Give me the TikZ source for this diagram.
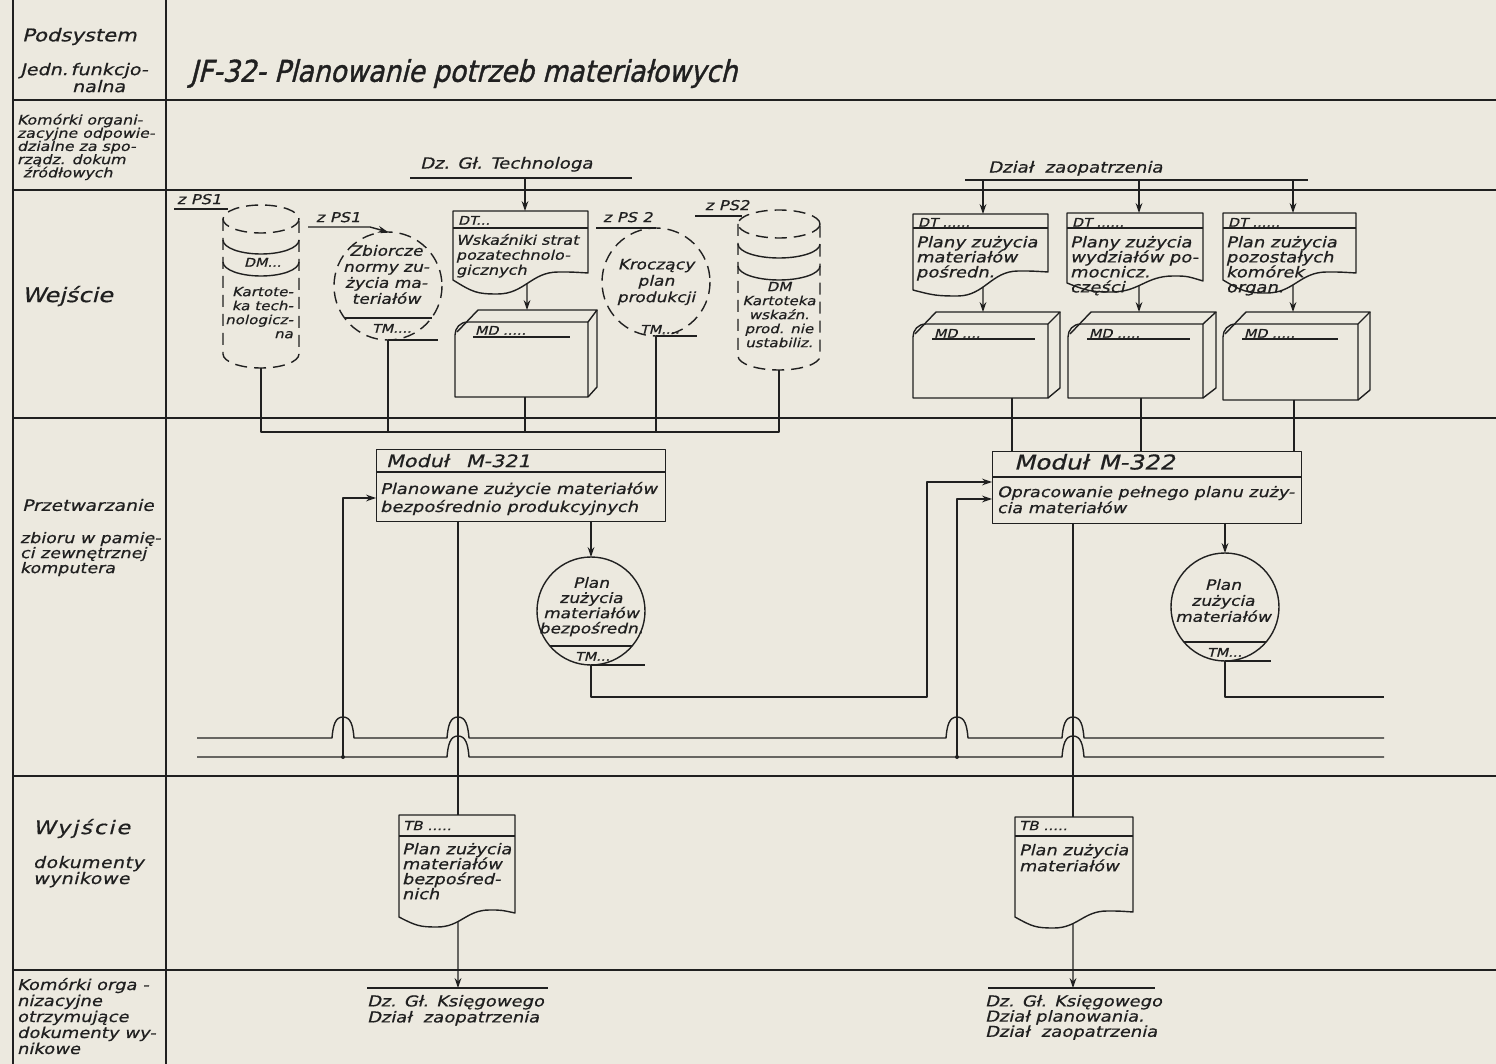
\documentclass[tikz,border=0pt]{standalone}
\usepackage{fontspec}
\newfontfamily\hand{DejaVu Sans}[FakeSlant=0.25,FakeStretch=1.2,FakeBold=0.6]
\newfontfamily\handn{DejaVu Sans}[FakeSlant=0.25,FakeStretch=0.88,FakeBold=1.2]
\usetikzlibrary{arrows.meta,intersections}
\definecolor{paper}{RGB}{236,233,223}
\definecolor{ink}{RGB}{32,32,32}
\newcommand\fs[2]{\hand\fontsize{#1}{#2}\selectfont\lineskiplimit=-30pt\lineskip=0pt}
\newcommand\fsn[2]{\handn\fontsize{#1}{#2}\selectfont}
% document symbol: name, x0, x1, top, sep, yl, ytrough, ycrest, yr
\newcommand\docshape[9]{%
  \pgfmathsetmacro\dw{#3-#2}%
  \pgfmathsetmacro\dxt{#2+0.33*\dw}%
  \pgfmathsetmacro\dxc{#2+0.78*\dw}%
  \draw[ln,name path=#1] (#3,#4) -- (#2,#4) -- (#2,#6)
    .. controls ({#2+0.15*\dw},{#6+0.9*(#7-#6)}) and ({\dxt-0.15*\dw},#7) .. (\dxt,#7)
    .. controls ({\dxt+0.2*\dw},#7) and ({\dxc-0.2*\dw},#8) .. (\dxc,#8)
    .. controls ({\dxc+0.1*\dw},#8) .. (#3,#9) -- cycle;
  \draw[ln] (#2,#5) -- (#3,#5);
}
% disk-pack box: x0, x1, front top, bottom, back dx
\newcommand\mdshape[5]{%
  \draw[ln] (#1,#3+13) -- (#1,#4) -- (#2,#4) -- (#2,#3) -- (#1+13,#3) .. controls (#1+5,#3) and (#1,#3+6) .. (#1,#3+13);
  \draw[ln] (#1+2,#3+10) -- (#1+23,#3-12) -- (#2+#5,#3-12) -- (#2,#3);
  \draw[ln] (#2+#5,#3-12) -- (#2+#5,#4-10) -- (#2,#4);
}
% dashed drum: cx, rx, top, bottom, arc1, arc2
\newcommand\drumshape[6]{%
  \draw[dsh] (#1,#3+14) ellipse[x radius=#2,y radius=14];
  \draw[dsh] (#1-#2,#3+14) -- (#1-#2,#4-14) arc[start angle=180,end angle=0,x radius=#2,y radius=14] -- (#1+#2,#3+14);
  \draw[ln] (#1-#2,#5) arc[start angle=180,end angle=0,x radius=#2,y radius=14];
  \draw[ln] (#1-#2,#6) arc[start angle=180,end angle=0,x radius=#2,y radius=14];
}
\begin{document}
\begin{tikzpicture}[x=0.5pt,y=-0.5pt,line join=round,
  lane/.style={draw=ink,line width=1.1pt},
  ln/.style={draw=ink,line width=0.7pt},
  dsh/.style={draw=ink,line width=0.7pt,dash pattern=on 6pt off 3.5pt},
  arr/.style={ln,-{Stealth[length=5pt,width=3.4pt]}},
  tl/.style={text=ink,inner sep=0pt,outer sep=0pt,anchor=north west,align=left},
  tc/.style={text=ink,inner sep=0pt,outer sep=0pt,anchor=north,align=center},
  tr/.style={text=ink,inner sep=0pt,outer sep=0pt,anchor=north east,align=right}]

\fill[paper] (0,0) rectangle (1496,1064);
\useasboundingbox (0,0) rectangle (1496,1064);

% ---------- frame ----------
\draw[lane] (13,0) -- (13,1064);
\draw[lane] (166,0) -- (166,1064);
\foreach \yy in {100,190,418,776,970} \draw[lane] (13,\yy) -- (1496,\yy);

% ---------- left column ----------
\node[tl,font=\fs{8.8}{10}] (lPod) at (22,28) {Podsystem};
\node[tl,font=\fs{8}{8.5}] (lJedn) at (20,63) {Jedn.\,funkcjo-\\\hspace*{26pt}nalna};
\node[tl,font=\fs{6.6}{6.6}] (lKom1) at (17,114) {Komórki organi-\\zacyjne odpowie-\\dzialne za spo-\\rządz. dokum\\\hspace*{3pt}źródłowych};
\node[tl,font=\fs{10}{12}] (lWej) at (22,286) {Wejście};
\node[tl,font=\fs{7.8}{10}] (lPrz) at (22,499) {Przetwarzanie};
\node[tl,font=\fs{7.3}{7.5}] (lZb) at (20,532) {zbioru w pamię-\\ci zewnętrznej\\komputera};
\node[tl,font=\fs{9.4}{12}\addfontfeature{LetterSpace=10}] (lWyj) at (33,819) {Wyjście};
\node[tl,font=\fs{7.9}{8}\addfontfeature{LetterSpace=3}] (lDok) at (33,856) {dokumenty\\wynikowe};
\node[tl,font=\fs{7.5}{8}] (lKom2) at (17,978) {Komórki orga -\\nizacyjne\\otrzymujące\\dokumenty wy-\\nikowe};

% ---------- title ----------
\node[tl,font=\fsn{15}{16}] (title) at (190,59) {JF-32- Planowanie potrzeb materiałowych};

% ---------- responsible units ----------
\node[tl,font=\fs{7.6}{10}] (tech) at (420,157) {Dz. Gł. Technologa};
\draw[ln] (410,178) -- (632,178);
\coordinate (techo) at (525,178);
\node[tl,font=\fs{7.6}{10}] (zaop) at (988,161) {Dział\ \ zaopatrzenia};
\draw[ln] (965,180) -- (1308,180);
\coordinate (zo1) at (983,180);
\coordinate (zo2) at (1139,180);
\coordinate (zo3) at (1293,180);

% ---------- input: drum 1 ----------
\drumshape{261}{38}{205}{368}{240}{262}
\node[tl,font=\fs{6}{8}] (d1dm) at (244,258) {DM...};
\node[tr,font=\fs{6.3}{7}] (d1) at (293,287) {Kartote-\\ka tech-\\nologicz-\\na};
\node[tl,font=\fs{6.8}{9}] (d1z) at (177,194) {z PS1};
\draw[ln] (174,209) -- (228,209);
\coordinate (d1b) at (261,368);

% ---------- input: tape 1 ----------
\draw[dsh] (388,286) circle[radius=54];
\draw[ln] (344.5,318) -- (431.5,318);
\draw[ln] (388,340) -- (438,340);
\node[tc,font=\fs{7.1}{8}] (c1) at (386,245) {Zbiorcze\\normy zu-\\życia ma-\\teriałów};
\node[tl,font=\fs{6}{8}] (c1tm) at (372,324) {TM....};
\node[tl,font=\fs{6.8}{9}] (c1z) at (316,212) {z PS1};
\coordinate (c1zl) at (308,227);
\coordinate (c1zr) at (370,227);
\coordinate (c1t) at (388,232);
\draw[arr] (c1zl) -- (c1zr) -- (c1t);
\coordinate (c1b) at (388,340);

% ---------- input: document DT ----------
\docshape{wdt1}{453}{588}{211}{228}{280}{294}{272}{273}
\node[tl,font=\fs{6}{8}] (dt1h) at (458,216) {DT...};
\node[tl,font=\fs{6.7}{7.5}] (dt1) at (456,234) {Wskaźniki strat\\pozatechnolo-\\gicznych};
\coordinate (dt1t) at (525,211);
\draw[arr] (techo) -- (dt1t);
\path[name path=vdt1] (527,250) -- (527,320);
\path[name intersections={of=wdt1 and vdt1,by={dt1o}}];

% ---------- input: MD box ----------
\mdshape{455}{588}{322}{397}{9}
\node[tl,font=\fs{6}{8}] (md1) at (475,326) {MD .....};
\draw[ln] (473,337) -- (570,337);
\coordinate (md1t) at (527,310);
\draw[arr] (dt1o) -- (md1t);
\coordinate (md1b) at (525,397);

% ---------- input: tape 2 ----------
\draw[dsh] (656,282) circle[radius=54];
\draw[ln] (656,336) -- (697,336);
\node[tc,font=\fs{7.1}{8.2}] (c2) at (656,259) {Kroczący\\plan\\produkcji};
\node[tl,font=\fs{6}{8}] (c2tm) at (640,325) {TM....};
\node[tl,font=\fs{6.8}{9}] (c2z) at (603,212) {z PS 2};
\draw[ln] (596,228) -- (656,228);
\coordinate (c2b) at (656,336);

% ---------- input: drum 2 ----------
\drumshape{779}{41}{210}{370}{244}{266}
\node[tc,font=\fs{6.3}{7}] (d2) at (779,282) {DM\\Kartoteka\\wskaźn.\\prod. nie\\ustabiliz.};
\node[tl,font=\fs{6.8}{9}] (d2z) at (705,200) {z PS2};
\draw[ln] (695,216) -- (742,216);
\coordinate (d2b) at (779,370);

% ---------- collector to M-321 ----------
\coordinate (coll) at (0,432);
\draw[ln] (d1b) |- (d2b |- coll) -- (d2b);
\draw[ln] (c1b) -- (c1b |- coll);
\draw[ln] (c2b) -- (c2b |- coll);
\draw[ln] (md1b) -- (md1b |- coll);

% ---------- right inputs: documents ----------
\docshape{wr1}{913}{1048}{214}{228}{290}{296}{271}{272}
\docshape{wr2}{1067}{1203}{213}{228}{283}{292}{276}{281}
\docshape{wr3}{1223}{1356}{213}{228}{280}{293}{272}{273}
\node[tl,font=\fs{6}{8}] (r1h) at (918,218) {DT ......};
\node[tl,font=\fs{7.5}{7.5}] (r1) at (916,236) {Plany zużycia\\materiałów\\pośredn.};
\node[tl,font=\fs{6}{8}] (r2h) at (1072,218) {DT ......};
\node[tl,font=\fs{7.5}{7.5}] (r2) at (1070,236) {Plany zużycia\\wydziałów po-\\mocnicz.\\części};
\node[tl,font=\fs{6}{8}] (r3h) at (1228,218) {DT ......};
\node[tl,font=\fs{7.5}{7.5}] (r3) at (1226,236) {Plan zużycia\\pozostałych\\komórek\\organ.};
\coordinate (r1t) at (983,214);
\coordinate (r2t) at (1139,213);
\coordinate (r3t) at (1293,213);
\draw[arr] (zo1) -- (r1t);
\draw[arr] (zo2) -- (r2t);
\draw[arr] (zo3) -- (r3t);
\path[name path=vr1] (983,250) -- (983,320);
\path[name path=vr2] (1139,250) -- (1139,320);
\path[name path=vr3] (1293,250) -- (1293,320);
\path[name intersections={of=wr1 and vr1,by={r1o}}];
\path[name intersections={of=wr2 and vr2,by={r2o}}];
\path[name intersections={of=wr3 and vr3,by={r3o}}];

% ---------- right inputs: MD boxes ----------
\mdshape{913}{1048}{324}{398}{12}
\mdshape{1068}{1203}{324}{398}{13}
\mdshape{1223}{1358}{324}{400}{12}
\node[tl,font=\fs{6}{8}] (mr1) at (934,329) {MD ....};
\node[tl,font=\fs{6}{8}] (mr2) at (1089,329) {MD .....};
\node[tl,font=\fs{6}{8}] (mr3) at (1244,329) {MD .....};
\draw[ln] (932,339) -- (1035,339);
\draw[ln] (1087,339) -- (1190,339);
\draw[ln] (1242,339) -- (1338,339);
\coordinate (mr1t) at (983,312);
\coordinate (mr2t) at (1139,312);
\coordinate (mr3t) at (1293,312);
\draw[arr] (r1o) -- (mr1t);
\draw[arr] (r2o) -- (mr2t);
\draw[arr] (r3o) -- (mr3t);
\coordinate (mr1b) at (1012,398);
\coordinate (mr2b) at (1141,398);
\coordinate (mr3b) at (1294,400);

% ---------- module M-321 ----------
\node[ln,draw,minimum width=144.5pt,minimum height=36pt,anchor=north west,inner sep=0pt] (m321) at (376,449) {};
\draw[ln] (376,472) -- (665,472);
\node[tl,font=\fs{8.6}{11}] (m321h) at (386,454) {Moduł\quad M-321};
\node[tl,font=\fs{7.5}{9}] (m321b) at (380,482) {Planowane zużycie materiałów\\bezpośrednio produkcyjnych};
\coordinate (m321L) at (376,498);
\coordinate (m321B1) at (458,521);
\coordinate (m321B2) at (591,521);

% ---------- module M-322 ----------
\node[ln,draw,minimum width=154.5pt,minimum height=36pt,anchor=north west,inner sep=0pt] (m322) at (992,451) {};
\draw[ln] (992,477) -- (1301,477);
\node[tl,font=\fs{10.2}{13}] (m322h) at (1014,454) {Moduł\enspace M-322};
\node[tl,font=\fs{7.3}{8}] (m322b) at (997,486) {Opracowanie pełnego planu zuży-\\cia materiałów};
\coordinate (m322L1) at (992,482);
\coordinate (m322L2) at (992,499);
\coordinate (m322B1) at (1073,523);
\coordinate (m322B2) at (1225,523);
\coordinate (m322T1) at (1012,451);
\coordinate (m322T2) at (1141,451);
\coordinate (m322T3) at (1294,451);
\draw[ln] (mr1b) -- (m322T1);
\draw[ln] (mr2b) -- (m322T2);
\draw[ln] (mr3b) -- (m322T3);

% ---------- tape 3 (M-321 result) ----------
\draw[ln] (591,611) circle[radius=54];
\draw[ln] (549.9,646) -- (632.1,646);
\draw[ln] (591,665) -- (645,665);
\node[tc,font=\fs{7.1}{7.6}] (c3) at (591,577) {Plan\\zużycia\\materiałów\\bezpośredn.};
\node[tl,font=\fs{6}{8}] (c3tm) at (575,652) {TM...};
\coordinate (c3t) at (591,557);
\draw[arr] (m321B2) -- (c3t);
\coordinate (c3b) at (591,665);
\coordinate (k1) at (927,697);
\draw[arr] (c3b) |- (k1) |- (m322L1);

% ---------- tape 4 (M-322 result) ----------
\draw[ln] (1225,607) circle[radius=54];
\draw[ln] (1183.9,642) -- (1266.1,642);
\draw[ln] (1225,661) -- (1271,661);
\node[tc,font=\fs{7.1}{8}] (c4) at (1223,579) {Plan\\zużycia\\materiałów};
\node[tl,font=\fs{6}{8}] (c4tm) at (1207,648) {TM...};
\coordinate (c4t) at (1225,553);
\draw[arr] (m322B2) -- (c4t);
\coordinate (c4b) at (1225,661);
\coordinate (k2) at (1384,697);
\draw[ln] (c4b) |- (k2);

% ---------- bus lines with hops ----------
\draw[ln] (197,738) \foreach \h in {343,458,957,1073} { -- (\h-11,738) .. controls (\h-10,726) and (\h-8,717) .. (\h,717) .. controls (\h+8,717) and (\h+10,726) .. (\h+11,738) } -- (1384,738);
\draw[ln] (197,757) \foreach \h in {458,1073} { -- (\h-11,757) .. controls (\h-10,745) and (\h-8,736) .. (\h,736) .. controls (\h+8,736) and (\h+10,745) .. (\h+11,757) } -- (1384,757);
\coordinate (jA) at (343,757);
\coordinate (jB) at (957,757);
\fill[ink] (jA) circle[radius=2];
\fill[ink] (jB) circle[radius=2];
\draw[arr] (jA) |- (m321L);
\draw[arr] (jB) |- (m322L2);

% ---------- outputs ----------
\coordinate (tb1t) at (458,815);
\coordinate (tb2t) at (1073,817);
\draw[ln] (m321B1) -- (tb1t);
\draw[ln] (m322B1) -- (tb2t);
\docshape{wtb1}{399}{515}{815}{836}{917}{927}{910}{913}
\docshape{wtb2}{1015}{1133}{817}{836}{917}{928}{911}{912}
\node[tl,font=\fs{6.3}{8}] (tb1h) at (403,821) {TB .....};
\node[tl,font=\fs{7.4}{7.5}] (tb1) at (402,843) {Plan zużycia\\materiałów\\bezpośred-\\nich};
\node[tl,font=\fs{6.3}{8}] (tb2h) at (1019,821) {TB .....};
\node[tl,font=\fs{7.4}{8}] (tb2) at (1019,844) {Plan zużycia\\materiałów};
\path[name path=vtb1] (458,880) -- (458,960);
\path[name path=vtb2] (1073,880) -- (1073,960);
\path[name intersections={of=wtb1 and vtb1,by={tb1o}}];
\path[name intersections={of=wtb2 and vtb2,by={tb2o}}];

% ---------- receivers ----------
\draw[ln] (367,988) -- (548,988);
\draw[ln] (988,988) -- (1155,988);
\coordinate (o1) at (458,988);
\coordinate (o2) at (1073,988);
\draw[arr] (tb1o) -- (o1);
\draw[arr] (tb2o) -- (o2);
\node[tl,font=\fs{7.5}{8}] (rec1) at (367,995) {Dz. Gł. Księgowego\\Dział\ \ zaopatrzenia};
\node[tl,font=\fs{7.5}{7.6}] (rec2) at (985,995) {Dz. Gł. Księgowego\\Dział\ planowania.\\Dział\ \ zaopatrzenia};

\end{tikzpicture}
\end{document}
